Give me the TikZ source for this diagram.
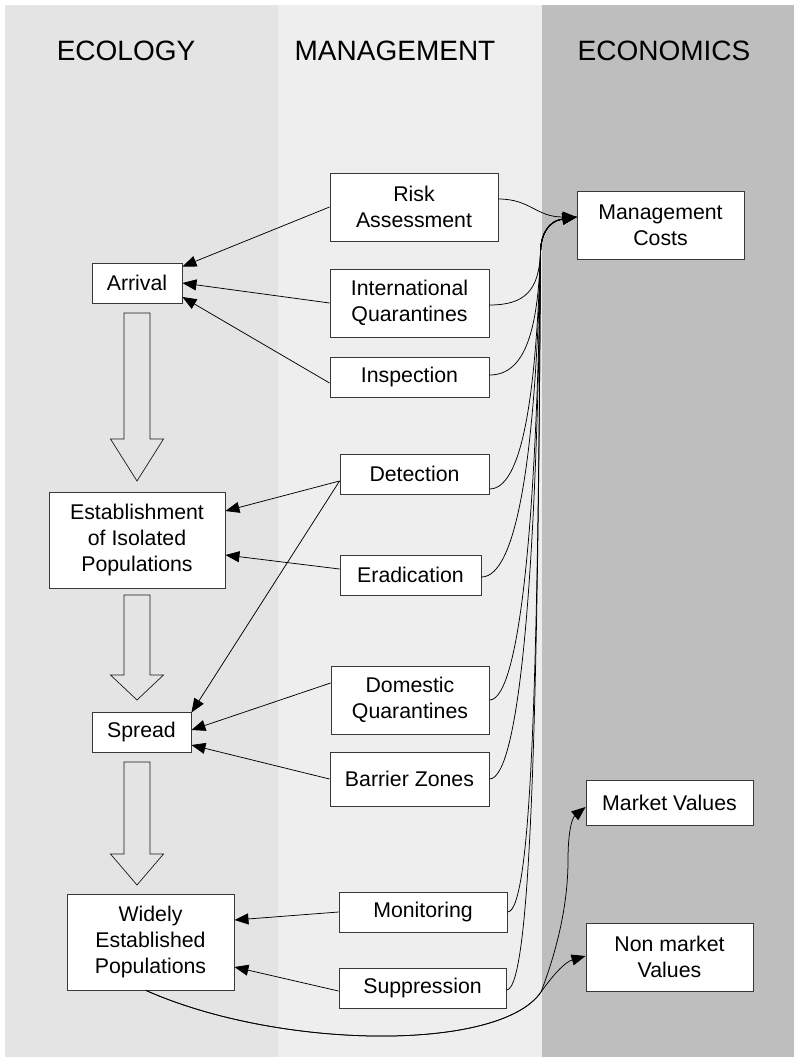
\documentclass[tikz,border=0pt]{standalone}
\usepackage{fontspec}
\setmainfont{Liberation Sans}
\usetikzlibrary{arrows.meta,calc}
\definecolor{ecocol}{gray}{0.894}
\definecolor{mancol}{gray}{0.933}
\definecolor{econcol}{gray}{0.745}
\begin{document}
\begin{tikzpicture}[x=1pt,y=-1pt,
  box/.style={draw=black!78, fill=white, line width=0.9pt, align=center, inner sep=0pt,
              font=\fontsize{21.3}{25.6}\selectfont},
  conn/.style={line width=0.75pt, -{Triangle[length=14pt,width=11pt]}},
  wire/.style={line width=0.75pt},
  header/.style={font=\fontsize{28}{30}\selectfont, anchor=base},
  hollow/.style={draw=black!90, line width=0.7pt, line join=miter}]
\useasboundingbox (0,0) rectangle (794,1057);
\fill[white] (0,0) rectangle (794,1057);
\fill[ecocol] (5,5) rectangle (278,1057);
\fill[mancol] (278,5) rectangle (542,1057);
\fill[econcol] (542,5) rectangle (794,1057);

% headers
\node[header] (hEco) at (126,61) {ECOLOGY};
\node[header] (hMan) at (395,61) {MANAGEMENT};
\node[header] (hEcon) at (664,61) {ECONOMICS};

% hollow arrows
\draw[hollow] (124,313) -- (150,313) -- (150,439) -- (163.5,439) -- (137,481) -- (110.5,439) -- (124,439) -- cycle;
\draw[hollow] (124,595) -- (150,595) -- (150,675) -- (163.5,675) -- (137,700) -- (110.5,675) -- (124,675) -- cycle;
\draw[hollow] (124,762) -- (150,762) -- (150,854) -- (163.5,854) -- (137,885) -- (110.5,854) -- (124,854) -- cycle;

% ecology nodes
\node[box, minimum width=90, minimum height=40] (arrival) at (137,283) {Arrival};
\node[box, minimum width=176, minimum height=96] (estab) at (137,540) {Establishment\\of Isolated\\Populations};
\node[box, minimum width=99, minimum height=40] (spread) at (141.5,732) {Spread};
\node[box, minimum width=167, minimum height=96] (widely) at (150.5,942) {Widely\\Established\\Populations};

% management nodes
\node[box, minimum width=168, minimum height=68] (risk) at (414,207) {Risk\\Assessment};
\node[box, minimum width=159, minimum height=68] (intl) at (409.5,303) {International\\Quarantines};
\node[box, minimum width=159, minimum height=40] (insp) at (409.5,377) {Inspection};
\node[box, minimum width=149, minimum height=40] (detect) at (414.5,474) {Detection};
\node[box, minimum width=141, minimum height=40] (erad) at (410.5,575) {Eradication};
\node[box, minimum width=158, minimum height=68] (domestic) at (410,700) {Domestic\\Quarantines};
\node[box, minimum width=159, minimum height=54] (barrier) at (409.5,779) {Barrier Zones};
\node[box, minimum width=168, minimum height=40] (monitoring) at (423,912) {Monitoring};
\node[box, minimum width=167, minimum height=40] (suppression) at (422.5,988) {Suppression};

% economics nodes
\node[box, minimum width=167, minimum height=68] (mgmt) at (660.5,225) {Management\\Costs};
\node[box, minimum width=167, minimum height=45] (market) at (669.5,802.5) {Market Values};
\node[box, minimum width=167, minimum height=68] (nonmarket) at (669.5,957) {Non market\\Values};

% management -> ecology
\draw[conn] (risk.west) -- ($(arrival.north east)+(0,4)$);
\draw[conn] (intl.west) -- (arrival.east);
\draw[conn] ($(insp.west)+(0,6)$) -- ($(arrival.east)+(0,14)$);
\draw[conn] ($(detect.west)+(0,7)$) -- ($(estab.east)+(0,-29)$);
\draw[conn] ($(detect.west)+(0,7)$) -- ($(spread.north east)+(0,1)$);
\draw[conn] ($(erad.west)+(0,-6)$) -- ($(estab.east)+(0,15)$);
\draw[conn] ($(domestic.west)+(0,-17)$) -- ($(spread.east)+(0,-2)$);
\draw[conn] (barrier.west) -- ($(spread.east)+(0,13)$);
\draw[conn] (monitoring.west) -- ($(widely.east)+(0,-22)$);
\draw[conn] ($(suppression.west)+(0,3)$) -- ($(widely.east)+(0,25)$);

% management -> costs
\coordinate (mc) at ($(mgmt.west)+(0,-8)$);
\coordinate (w) at (540.5,252);
\draw[conn] ($(risk.east)+(0,-8)$) .. controls +(32,0) and (536,217) .. (mc);
\draw[conn] ($(intl.east)+(0,2)$) .. controls +(36,0) and (539,290) .. (w)
   .. controls (541,233) and (549,221) .. (mc);
\draw[conn] ($(insp.east)+(0,-2)$) .. controls +(36,0) and (538,330) .. (w)
   .. controls (541,233) and (549,221) .. (mc);
\draw[conn] ($(detect.east)+(0,15)$) .. controls +(32,0) and (536,400) .. (w)
   .. controls (541,233) and (549,221) .. (mc);
\draw[conn] ($(erad.east)+(0,2)$) .. controls +(36,0) and (536,450) .. (w)
   .. controls (541,233) and (549,221) .. (mc);
\draw[conn] (domestic.east) .. controls +(30,0) and (537,520) .. (w)
   .. controls (541,233) and (549,221) .. (mc);
\draw[conn] (barrier.east) .. controls +(30,0) and (537,570) .. (w)
   .. controls (541,233) and (549,221) .. (mc);
\draw[conn] (monitoring.east) .. controls +(25,0) and (538,660) .. (w)
   .. controls (541,233) and (549,221) .. (mc);
\draw[conn] ($(suppression.east)+(0,2)$) .. controls +(25,0) and (538,700) .. (w)
   .. controls (541,233) and (549,221) .. (mc);

% ecology -> economics values
\coordinate (junc) at (541,992);
\draw[conn] ($(widely.south)+(-4.5,0)$) .. controls (280,1050) and (500,1052) .. (junc)
   .. controls (553,975) and (565,962) .. ($(nonmarket.west)+(0,-1)$);
\draw[conn] ($(widely.south)+(-4.5,0)$) .. controls (280,1050) and (500,1052) .. (junc)
   .. controls (557,950) and (568,905) .. (568,860)
   .. controls (568,832) and (572,818) .. ($(market.west)+(0,4.5)$);
\end{tikzpicture}
\end{document}
